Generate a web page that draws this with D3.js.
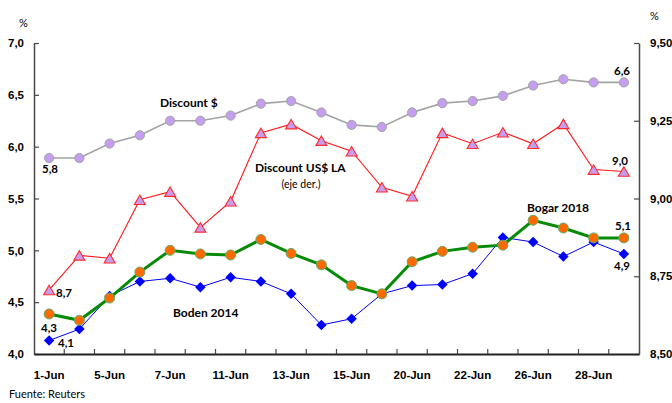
<!DOCTYPE html>
<html>
<head>
<meta charset="utf-8">
<script src="https://cdn.jsdelivr.net/npm/d3@7"></script>
<style>
  html, body { margin: 0; padding: 0; background: #fff; }
  svg { display: block; font-family: Lato, "Open Sans", sans-serif; }
  .tick text { font-weight: bold; font-size: 11.5px; fill: #000; }
</style>
</head>
<body>
<svg id="chart" width="672" height="403"></svg>
<script>
// Trading days (every other one is labelled on the axis)
const dates = ["1-Jun","4-Jun","5-Jun","6-Jun","7-Jun","8-Jun","11-Jun","12-Jun","13-Jun","14-Jun",
               "15-Jun","19-Jun","20-Jun","21-Jun","22-Jun","25-Jun","26-Jun","27-Jun","28-Jun","29-Jun"];

// Yields, % (left axis)
const discountUSD = [5.89,5.89,6.03,6.11,6.25,6.25,6.30,6.415,6.44,6.33,
                     6.21,6.19,6.33,6.42,6.44,6.49,6.59,6.65,6.62,6.62];
const bogar2018   = [4.386,4.325,4.54,4.79,5.00,4.965,4.955,5.105,4.97,4.86,
                     4.66,4.58,4.89,4.99,5.03,5.05,5.29,5.215,5.12,5.12];
const boden2014   = [4.13,4.24,4.56,4.70,4.73,4.645,4.74,4.70,4.58,4.28,
                     4.34,4.58,4.66,4.67,4.775,5.125,5.08,4.94,5.08,4.965];
// Yield, % (right axis)
const discountLA  = [8.706,8.817,8.808,8.996,9.022,8.907,8.991,9.211,9.239,9.186,
                     9.152,9.036,9.007,9.211,9.176,9.213,9.176,9.24,9.093,9.087];

const leftTicks  = [4.0,4.5,5.0,5.5,6.0,6.5,7.0];
const rightTicks = [8.50,8.75,9.00,9.25,9.50];

const svg = d3.select("#chart");
const L = 34, R = 639, T = 43, B = 354;

const x  = d3.scaleBand().domain(dates).range([L, R]);
const cx = d => x(d) + x.bandwidth() / 2;
const yL = d3.scaleLinear().domain([4, 7]).range([B, T]);
const yR = d3.scaleLinear().domain([8.5, 9.5]).range([B, T]);

const loc = d3.formatLocale({decimal: ",", thousands: ".", grouping: [3], currency: ["", ""]});
const f1 = loc.format(".1f"), f2 = loc.format(".2f");
// value labels keep one decimal, cut (not rounded)
const trunc = v => f1(Math.floor(v * 10 + 1e-9) / 10);

// ---- axes ----
const axisColor = "#4a4a4a";
const gL = svg.append("g").attr("transform", `translate(${L},0)`)
  .call(d3.axisLeft(yL).tickValues(leftTicks).tickFormat(f1).tickSizeInner(-5).tickSizeOuter(0).tickPadding(10));
const gR = svg.append("g").attr("transform", `translate(${R},0)`)
  .call(d3.axisRight(yR).tickValues(rightTicks).tickFormat(f2).tickSizeInner(-5).tickSizeOuter(0).tickPadding(11));
const gB = svg.append("g").attr("transform", `translate(0,${B})`)
  .call(d3.axisBottom(x).tickValues(dates.filter((d, i) => i % 2 === 0)).tickSize(0).tickPadding(17));
gB.selectAll(".tick text").attr("dy", "0.71em");

// bottom ticks sit on the category boundaries, pointing up
gB.selectAll(".bound").data(dates.slice(1)).join("line")
  .attr("class", "bound")
  .attr("x1", d => x(d)).attr("x2", d => x(d))
  .attr("y1", 0).attr("y2", -5)
  .attr("stroke", axisColor).attr("stroke-width", 1.2);

[gL, gR].forEach(g => {
  g.select(".domain").attr("stroke", axisColor).attr("stroke-width", 1.5);
  g.selectAll(".tick line").attr("stroke", axisColor).attr("stroke-width", 1.2);
});
gB.select(".domain").attr("stroke", "#222").attr("stroke-width", 2);

// ---- series ----
const lineL = d3.line().x((d, i) => cx(dates[i])).y(d => yL(d));
const lineR = d3.line().x((d, i) => cx(dates[i])).y(d => yR(d));

const triPath = (w, h) => `M0,${-h/2}L${w/2},${h/2}L${-w/2},${h/2}Z`;
const diaPath = (w, h) => `M0,${-h/2}L${w/2},0L0,${h/2}L${-w/2},0Z`;

// Discount $
svg.append("path").datum(discountUSD).attr("d", lineL)
  .attr("fill", "none").attr("stroke", "#a3a3a3").attr("stroke-width", 1.6);
svg.append("g").selectAll("circle").data(discountUSD).join("circle")
  .attr("cx", (d, i) => cx(dates[i])).attr("cy", d => yL(d)).attr("r", 4.6)
  .attr("fill", "#c69ef0").attr("stroke", "#a3a3a3").attr("stroke-width", 1);

// Discount US$ LA (right axis)
svg.append("path").datum(discountLA).attr("d", lineR)
  .attr("fill", "none").attr("stroke", "#ff1a1a").attr("stroke-width", 1.1);
svg.append("g").selectAll("path").data(discountLA).join("path")
  .attr("transform", (d, i) => `translate(${cx(dates[i])},${yR(d)})`)
  .attr("d", triPath(11, 9.5))
  .attr("fill", "#c69ef0").attr("stroke", "#ff2a2a").attr("stroke-width", 1.1);

// Boden 2014
svg.append("path").datum(boden2014).attr("d", lineL)
  .attr("fill", "none").attr("stroke", "#0000ff").attr("stroke-width", 1);
svg.append("g").selectAll("path").data(boden2014).join("path")
  .attr("transform", (d, i) => `translate(${cx(dates[i])},${yL(d)})`)
  .attr("d", diaPath(10.5, 10.5))
  .attr("fill", "#0000ff");

// Bogar 2018
svg.append("path").datum(bogar2018).attr("d", lineL)
  .attr("fill", "none").attr("stroke", "#078a07").attr("stroke-width", 3);
svg.append("g").selectAll("circle").data(bogar2018).join("circle")
  .attr("cx", (d, i) => cx(dates[i])).attr("cy", d => yL(d)).attr("r", 5)
  .attr("fill", "#ff6a00").attr("stroke", "#5fae6a").attr("stroke-width", 1);

// ---- text ----
const txt = (s, tx, ty, opts = {}) => svg.append("text")
  .attr("x", tx).attr("y", ty).text(s)
  .attr("font-size", opts.size || 11.5)
  .attr("font-weight", opts.weight || "bold")
  .attr("text-anchor", opts.anchor || "start")
  .attr("fill", "#000");

txt("%", 19, 26.5, {weight: "normal", size: 11});
txt("%", 650, 20, {weight: "normal", size: 11});

txt("Discount $", 160, 107, {size: 12});
txt("Discount US$ LA", 255, 172, {size: 12});
txt("(eje der.)", 301, 188, {weight: "normal", size: 10.5, anchor: "middle"});
txt("Bogar 2018", 527, 212, {size: 12});
txt("Boden 2014", 173, 317, {size: 12});

const last = dates.length - 1;
// end-point values
txt(trunc(discountUSD[0]), 42, 173);
txt(trunc(discountUSD[last]), 614, 75);
txt(trunc(discountLA[0]), 56, 296.5);
txt(trunc(discountLA[last]), 612, 165);
txt(trunc(bogar2018[0]), 41, 332);
txt(trunc(bogar2018[last]), 615, 230);
txt(trunc(boden2014[0]), 58, 346.5);
txt(trunc(boden2014[last]), 614, 270);

txt("Fuente: Reuters", 9, 398, {weight: "normal", size: 11});
</script>
</body>
</html>
